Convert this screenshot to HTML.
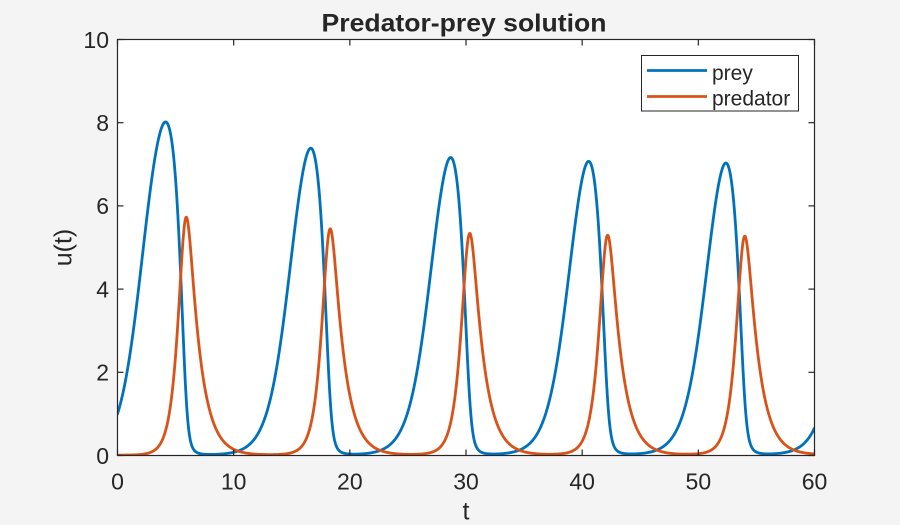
<!DOCTYPE html>
<html>
<head>
<meta charset="utf-8">
<style>
  html,body{margin:0;padding:0;background:#f4f4f4;}
  svg{display:block;}
  text{font-family:"Liberation Sans", Arial, Helvetica, sans-serif; fill:#262626;}
</style>
</head>
<body>
<svg id="chart" width="900" height="525" viewBox="0 0 900 525" xmlns="http://www.w3.org/2000/svg">
  <rect x="0" y="0" width="900" height="525" fill="#f4f4f4"/>
  <defs>
    <clipPath id="clip"><rect x="117.5" y="39.5" width="697" height="416"/></clipPath>
  </defs>
  <rect x="117.5" y="39.5" width="697" height="416" fill="#ffffff"/>

  <g id="curves" clip-path="url(#clip)" fill="none" stroke-width="2.8" stroke-linejoin="round" stroke-linecap="round">
    <path id="prey" stroke="#0072BD" d=""/>
    <path id="pred" stroke="#D95319" d=""/>
  </g>

  <!-- axes box -->
  <rect x="117.5" y="39.5" width="697" height="416" fill="none" stroke="#262626" stroke-width="1.2"/>

  <g id="ticks" stroke="#262626" stroke-width="1.2"></g>

  <!-- y tick labels -->
  <g font-size="23" text-anchor="end">
    <text x="109" y="463.8">0</text>
    <text x="109" y="380.6">2</text>
    <text x="109" y="297.4">4</text>
    <text x="109" y="214.2">6</text>
    <text x="109" y="131">8</text>
    <text x="109" y="47.8">10</text>
  </g>
  <!-- x tick labels -->
  <g font-size="23" text-anchor="middle">
    <text x="117.5" y="489.3">0</text>
    <text x="233.67" y="489.3">10</text>
    <text x="349.83" y="489.3">20</text>
    <text x="466" y="489.3">30</text>
    <text x="582.17" y="489.3">40</text>
    <text x="698.33" y="489.3">50</text>
    <text x="814.5" y="489.3">60</text>
  </g>

  <!-- axis labels -->
  <text x="466" y="519.5" font-size="25" text-anchor="middle">t</text>
  <text transform="translate(71.5,247.5) rotate(-90)" font-size="25" text-anchor="middle">u(t)</text>

  <!-- title -->
  <text x="464" y="31.5" font-size="25" font-weight="bold" text-anchor="middle" textLength="285" lengthAdjust="spacingAndGlyphs">Predator-prey solution</text>

  <!-- legend -->
  <rect x="641.5" y="55.5" width="157" height="55.5" fill="#ffffff" stroke="#262626" stroke-width="1"/>
  <line x1="647" y1="70.5" x2="707" y2="70.5" stroke="#0072BD" stroke-width="2.8"/>
  <line x1="647" y1="96.5" x2="707" y2="96.5" stroke="#D95319" stroke-width="2.8"/>
  <text x="712" y="80" font-size="21">prey</text>
  <text x="712" y="105.5" font-size="21">predator</text>
</svg>
<script>
(function(){
  var X0=117.5, X1=814.5, Y0=455.5, Y1=39.5;
  function X(t){return X0+(X1-X0)*t/60;}
  function Y(v){return Y0-(Y0-Y1)*v/10;}
  var g=document.getElementById('ticks'), ns='http://www.w3.org/2000/svg', L=6;
  function ln(x1,y1,x2,y2){var e=document.createElementNS(ns,'line');e.setAttribute('x1',x1);e.setAttribute('y1',y1);e.setAttribute('x2',x2);e.setAttribute('y2',y2);g.appendChild(e);}
  for(var t=0;t<=60;t+=10){var x=X(t);ln(x,Y0,x,Y0-L);ln(x,Y1,x,Y1+L);}
  for(var v=0;v<=10;v+=2){var y=Y(v);ln(X0,y,X0+L,y);ln(X1,y,X1-L,y);}
  var a=0.1,b=0.25;
  function f(u){var s=u[0]*u[1]/(1+b*u[0]);return [u[0]*(1-a*u[0])-s,-u[1]+s];}
  var u=[1,0.01], h=0.002, N=30000;
  var d1='M'+X(0).toFixed(2)+','+Y(u[0]).toFixed(2), d2='M'+X(0).toFixed(2)+','+Y(u[1]).toFixed(2);
  for(var i=1;i<=N;i++){
    var k1=f(u);
    var k2=f([u[0]+h/2*k1[0],u[1]+h/2*k1[1]]);
    var k3=f([u[0]+h/2*k2[0],u[1]+h/2*k2[1]]);
    var k4=f([u[0]+h*k3[0],u[1]+h*k3[1]]);
    u=[u[0]+h/6*(k1[0]+2*k2[0]+2*k3[0]+k4[0]), u[1]+h/6*(k1[1]+2*k2[1]+2*k3[1]+k4[1])];
    if(i%5===0){
      var tt=i*h;
      d1+='L'+X(tt).toFixed(2)+','+Y(u[0]).toFixed(2);
      d2+='L'+X(tt).toFixed(2)+','+Y(u[1]).toFixed(2);
    }
  }
  document.getElementById('prey').setAttribute('d',d1);
  document.getElementById('pred').setAttribute('d',d2);
})();
</script>
</body>
</html>
